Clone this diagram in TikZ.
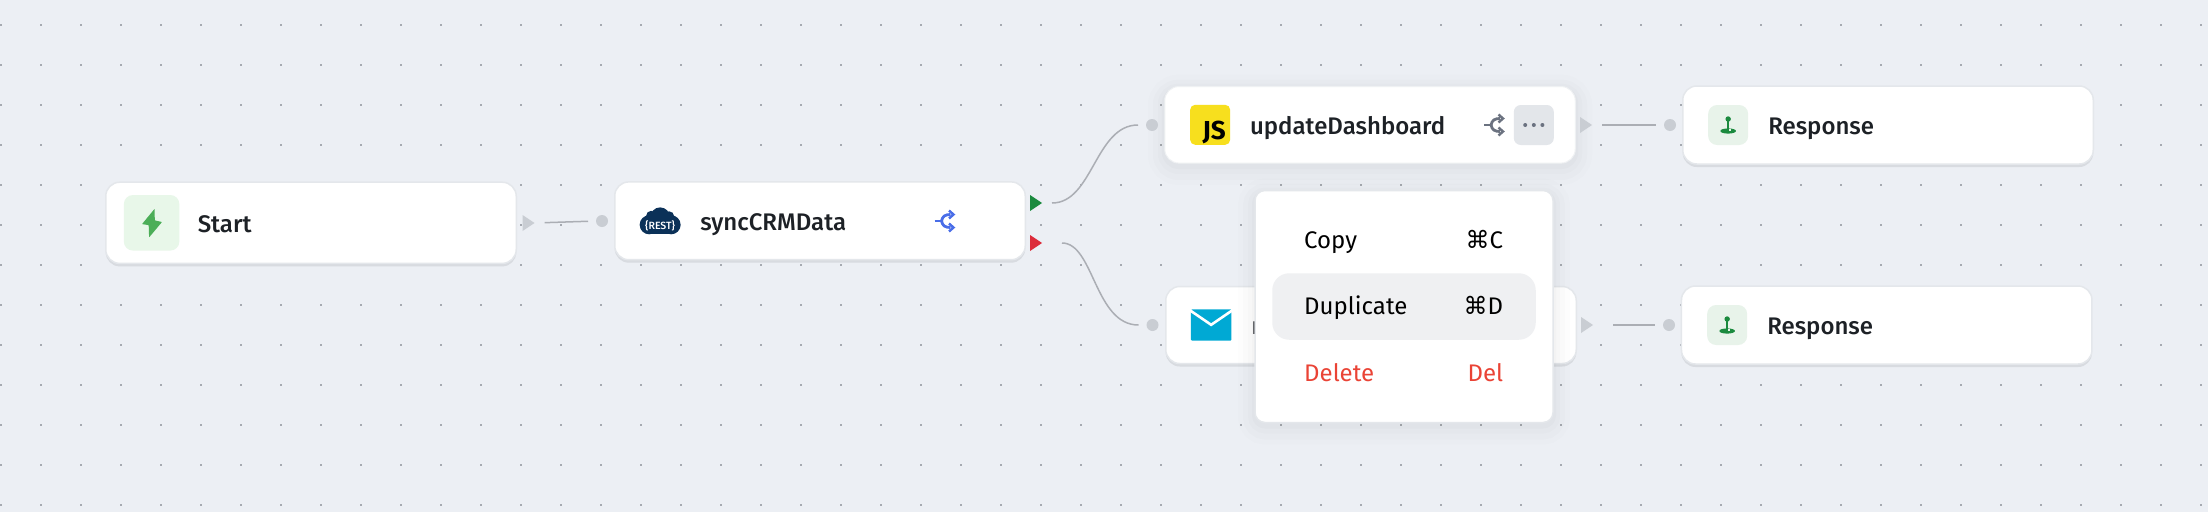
\documentclass[tikz,border=0pt]{standalone}
\usepackage{fontspec}
\setmainfont{Fira Sans}
\newfontfamily\labelfont{Fira Sans Medium}
\newfontfamily\symfont{DejaVu Sans}
\usetikzlibrary{arrows.meta, positioning, shapes.geometric, shadows}

\definecolor{canvasbg}{HTML}{ECEFF4}
\definecolor{griddot}{HTML}{A6AAB1}
\definecolor{boxline}{HTML}{E4E7EB}
\definecolor{boxshadow}{HTML}{D8DBE0}
\definecolor{portgray}{HTML}{C9CDD3}
\definecolor{wiregray}{HTML}{ABAEB4}
\definecolor{inktext}{HTML}{1D2126}
\definecolor{portgreen}{HTML}{1B8A3E}
\definecolor{portred}{HTML}{DC2C3A}
\definecolor{tilegreen}{HTML}{E8F7E9}
\definecolor{boltgreen}{HTML}{4CAE58}
\definecolor{tilepin}{HTML}{E8F3EA}
\definecolor{restnavy}{HTML}{0B3158}
\definecolor{syncblue}{HTML}{4A6EE8}
\definecolor{idlegray}{HTML}{6B7280}
\definecolor{jsyellow}{HTML}{F7DF1E}
\definecolor{buttongray}{HTML}{E3E6EA}
\definecolor{mailblue}{HTML}{00A9D4}
\definecolor{rowgray}{HTML}{EFF0F2}
\definecolor{deletered}{HTML}{EA4335}

\tikzset{
  softshadow/.style={
    preaction={draw=black,draw opacity=.008,line width=34pt,transform canvas={yshift=-5pt}},
    preaction={draw=black,draw opacity=.010,line width=24pt,transform canvas={yshift=-5pt}},
    preaction={draw=black,draw opacity=.012,line width=14pt,transform canvas={yshift=-4pt}},
    preaction={draw=black,draw opacity=.014,line width=6pt,transform canvas={yshift=-3pt}}
  },
  flowbox/.style={rectangle,rounded corners=14pt,fill=white,inner sep=0pt,outer sep=0pt,
    minimum width=410.5pt,minimum height=#1},
  restbox/.style={flowbox=#1,draw=boxline,line width=1.5pt,
    drop shadow={shadow xshift=0pt,shadow yshift=-3pt,fill=boxshadow,opacity=1}},
  icontile/.style={rectangle,rounded corners=9pt,inner sep=0pt,minimum width=40pt,minimum height=40pt},
  labeltext/.style={font=\labelfont\fontsize{24}{28}\selectfont,text=inktext,inner sep=0pt,
    text height=18.5pt,text depth=0pt},
  menutext/.style={font=\fontsize{24}{28}\selectfont,text=#1,inner sep=0pt,anchor=base west},
  menukey/.style={font=\fontsize{24}{28}\selectfont,text=#1,inner sep=0pt,anchor=base east},
  inport/.style={circle,fill=portgray,minimum size=12pt,inner sep=0pt,outer sep=0pt},
  outport/.style={isosceles triangle,isosceles triangle stretches,minimum height=12pt,
    minimum width=16pt,inner sep=0pt,outer sep=0pt,anchor=apex,fill=#1},
  outport/.default=portgray,
  wire/.style={draw=wiregray,line width=1.5pt,shorten >=8pt,shorten <=10pt},
  branchicon/.pic={
    \draw[#1,line width=2.8pt] (-10,0) -- (-3,0);
    \draw[#1,line width=2.8pt] (-3,0) .. controls (-2,-5) and (1,-6.5) .. (6,-6.5);
    \draw[#1,line width=2.8pt] (-3,0) .. controls (-2,5) and (1,6.5) .. (6,6.5);
    \draw[#1,line width=2.4pt] (4.5,-10.5) -- (9,-6.5) -- (4.5,-2.5);
    \draw[#1,line width=2.4pt] (4.5,2.5) -- (9,6.5) -- (4.5,10.5);
  },
  pinicon/.pic={
    \fill[portgreen] (0,6) ellipse (7.8 and 2.6);
    \fill[tilepin] (-1.5,6.4) rectangle (2.4,4);
    \draw[portgreen,line width=1.5pt] (0,-6) -- (0,6);
    \fill[portgreen] (0,-6) circle (2.7);
  }
}

\begin{document}
\begin{tikzpicture}[x=1pt,y=-1pt]
  \useasboundingbox (0,0) rectangle (2208,512);
  \fill[canvasbg] (0,0) rectangle (2208,512);
  \foreach \gx in {0,...,55}
    \foreach \gy in {0,...,12}
      \fill[griddot] ({\gx*40},{24+\gy*40}) rectangle ++(2,2);

  \node[restbox=81.2pt] (startbox) at (311,222.8) {};
  \node[restbox=77.8pt] (syncbox) at (820,220.8) {};
  \node[flowbox=76.5pt,draw=boxline!60,line width=1pt,softshadow] (dashbox) at (1370,124.8) {};
  \node[restbox=77pt] (mailbox) at (1371,325) {};
  \node[restbox=78pt] (resptopbox) at (1888,125) {};
  \node[restbox=78pt] (respbotbox) at (1886.7,325) {};

  \node[icontile,fill=tilegreen,minimum width=55.5pt,minimum height=55.5pt,right=17.9pt of startbox.west] (starticon) {};
  \fill[boltgreen,rounded corners=.5pt,shift={(starticon)}] (3,-14) -- (-9.6,1.3) -- (-2.9,2.3) -- (-2.5,14.6) -- (10.4,-.8) -- (3.2,-2.4) -- cycle;
  \node[labeltext,right=18pt of starticon] (startlabel) {Start};

  \node[minimum width=40pt,minimum height=27pt,inner sep=0pt,right=25.2pt of syncbox.west] (restcloud) {};
  \fill[restnavy,shift={(restcloud)}] (0,-3.6) circle (9.8);
  \fill[restnavy,shift={(restcloud)}] (-11,4) circle (9.5);
  \fill[restnavy,shift={(restcloud)}] (11,4) circle (9.5);
  \fill[restnavy,shift={(restcloud)}] (-9,-5) circle (5);
  \fill[restnavy,shift={(restcloud)}] (9,-4.5) circle (5);
  \fill[restnavy,shift={(restcloud)}] (-11,0) rectangle (11,13.5);
  \node[font=\labelfont\fontsize{10.5}{12}\selectfont,text=white,inner sep=0pt] (restlabel) at ([yshift=-5pt]restcloud.center) {\{REST\}};
  \node[labeltext,right=19.7pt of restcloud] (synclabel) {syncCRMData};
  \pic at (944.5,221) {branchicon=syncblue};

  \node[icontile,fill=jsyellow,rounded corners=5pt,right=25.2pt of dashbox.west] (jsicon) {};
  \node[font=\bfseries\fontsize{26}{28}\selectfont,text=black,inner sep=0pt,anchor=base east] (jslabel) at (1226,139) {JS};
  \node[labeltext,right=19.5pt of jsicon] (dashlabel) {updateDashboard};
  \pic at (1494,125) {branchicon=idlegray};
  \node[icontile,fill=buttongray,rounded corners=7pt] (morebutton) at (1533.8,125) {};
  \foreach \dx in {-8.6,0,8.6}
    \fill[idlegray] ([xshift=\dx pt]morebutton.center) circle (2);

  \node[minimum width=40pt,minimum height=31pt,inner sep=0pt,right=25.2pt of mailbox.west] (mailicon) {};
  \fill[mailblue,rounded corners=1pt] (mailicon.south west) rectangle (mailicon.north east);
  \draw[white,line width=2.6pt] ([xshift=-1pt,yshift=-1pt]mailicon.north west) -- ([yshift=-15.5pt]mailicon.north) -- ([xshift=1pt,yshift=-1pt]mailicon.north east);
  \node[labeltext,right=20pt of mailicon] (maillabel) {n};

  \node[icontile,fill=tilepin,right=25.2pt of resptopbox.west] (resptopicon) {};
  \pic at (resptopicon) {pinicon};
  \node[labeltext,right=19.7pt of resptopicon] (resptoplabel) {Response};
  \node[icontile,fill=tilepin,right=25.5pt of respbotbox.west] (respboticon) {};
  \pic at (respboticon) {pinicon};
  \node[labeltext,right=19.7pt of respboticon] (respbotlabel) {Response};

  \node[outport] (startout) at (534.6,223) {};
  \node[inport] (syncin) at (602,221) {};
  \node[outport=portgreen] (syncok) at (1042,203) {};
  \node[outport=portred] (syncfail) at (1042,243) {};
  \node[inport] (dashin) at (1152,125) {};
  \node[inport] (mailin) at (1152.5,325) {};
  \node[outport] (dashout) at (1592,125) {};
  \node[outport] (mailout) at (1593,325) {};
  \node[inport] (resptopin) at (1670,125) {};
  \node[inport] (respbotin) at (1669,325) {};

  \draw[wire] (startout.apex) -- (syncin.west);
  \draw[wire] (syncok.apex) to[out=0,in=180] (dashin.west);
  \draw[wire,shorten <=20pt] (syncfail.apex) to[out=0,in=180] (mailin.west);
  \draw[wire] (dashout.apex) -- (resptopin.west);
  \draw[wire,shorten <=20pt] (mailout.apex) -- (respbotin.west);

  \node[rectangle,rounded corners=10pt,fill=white,draw=boxline,line width=1.5pt,inner sep=0pt,
    minimum width=298pt,minimum height=232pt,softshadow] (menubox) at (1404,306.5) {};
  \node[rectangle,rounded corners=17pt,fill=rowgray,inner sep=0pt,minimum width=263.5pt,minimum height=66.5pt] (duprow) at (1404,306.5) {};
  \node[menutext=black] (copylabel) at (1304,248.3) {Copy};
  \node[menutext=black] (duplabel) at (1304,314.3) {Duplicate};
  \node[menutext=deletered] (dellabel) at (1304,381.7) {Delete};
  \node[menukey=black] (copykey) at (1503.3,248.3) {{\symfont ⌘}C};
  \node[menukey=black] (dupkey) at (1503.3,314.3) {{\symfont ⌘}D};
  \node[menukey=deletered] (delkey) at (1503.3,381.7) {Del};
\end{tikzpicture}
\end{document}
